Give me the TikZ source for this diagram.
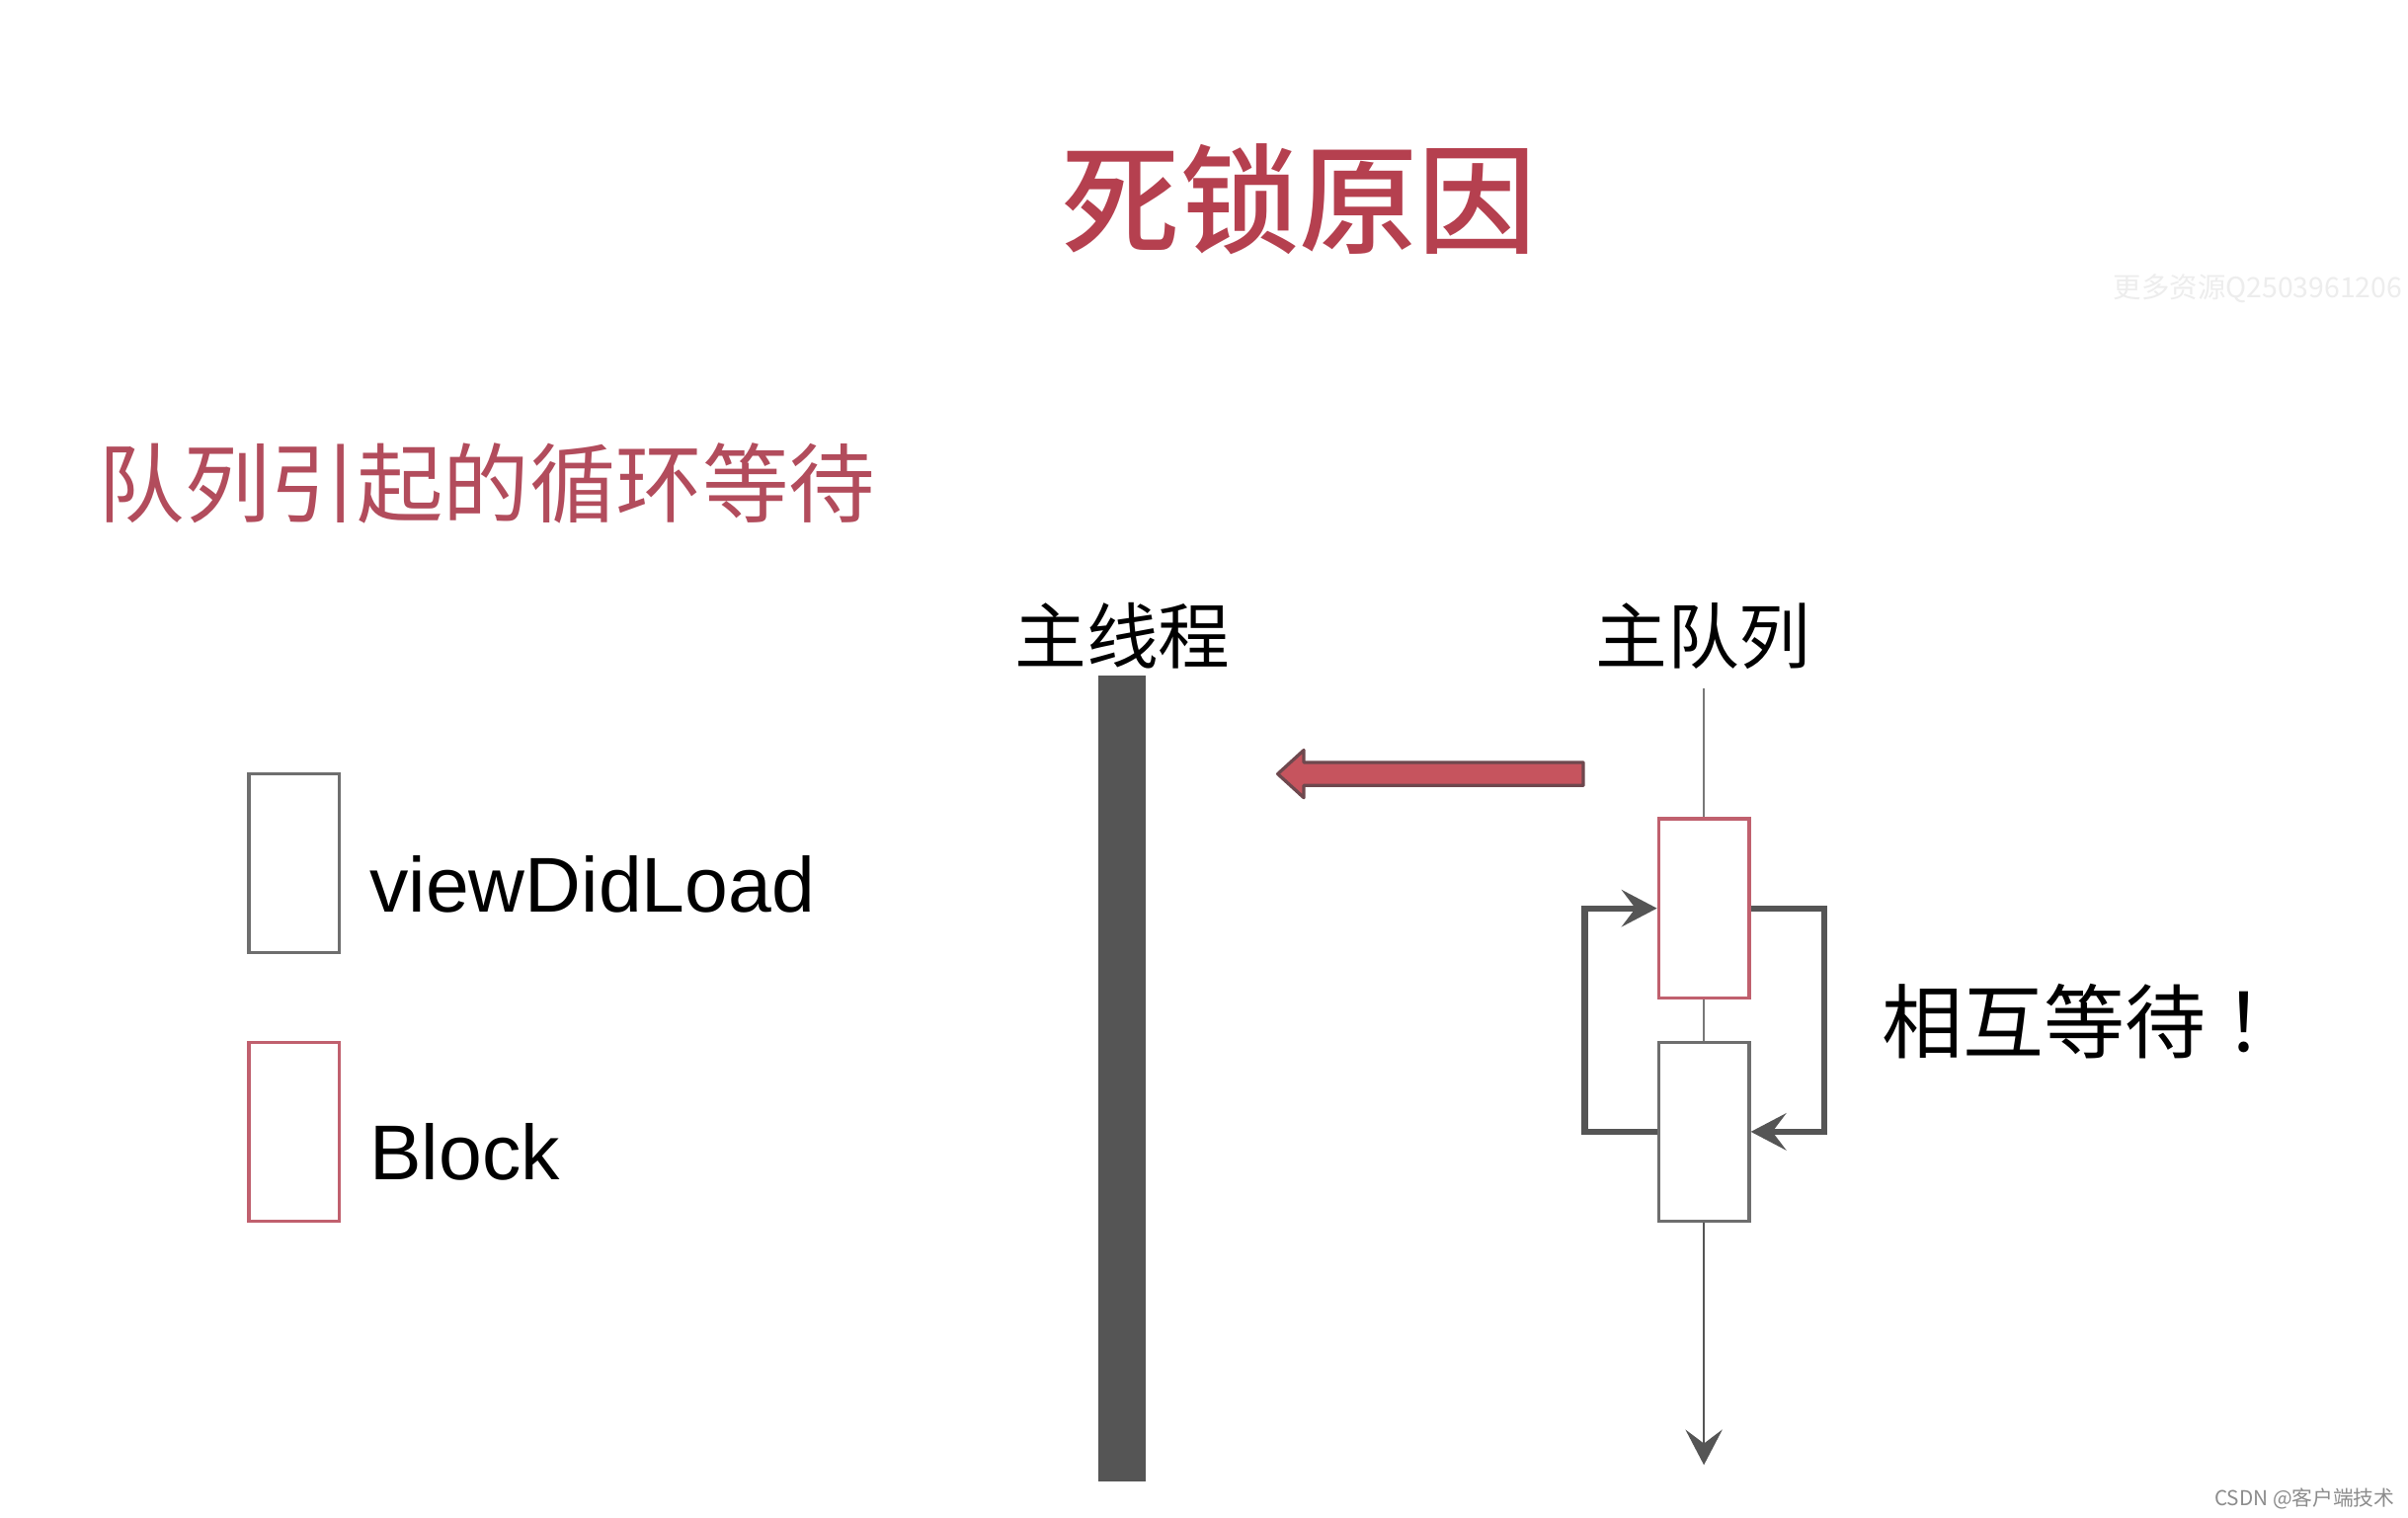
\documentclass[tikz,border=0pt]{standalone}
\usepackage{fontspec}
\setmainfont{Liberation Sans}
\newfontfamily\cjk{Noto Sans CJK SC}
\newfontfamily\cjkmed{Noto Sans CJK SC Medium}
\usepackage{tikz}
\usetikzlibrary{arrows.meta,positioning}
\definecolor{titlered}{RGB}{181,64,79}
\definecolor{subred}{RGB}{178,76,92}
\definecolor{boxred}{RGB}{192,96,110}
\definecolor{arrowred}{RGB}{198,84,94}
\definecolor{arrowedge}{RGB}{110,72,78}
\definecolor{bargray}{RGB}{85,85,85}
\definecolor{linegray}{RGB}{120,120,120}
\definecolor{boxgray}{RGB}{110,110,110}
\tikzset{
  heading/.style={
    inner sep=0pt,
    text=titlered,
    font=\cjkmed\fontsize{22}{26}\selectfont
  },
  subheading/.style={
    inner sep=0pt,
    text=subred,
    font=\cjk\fontsize{16}{19}\selectfont
  },
  lanehead/.style={
    inner sep=0pt,
    font=\cjk\fontsize{13.3}{16}\selectfont
  },
  legendtext/.style={
    inner sep=0pt,
    font=\fontsize{14.4}{17}\selectfont
  },
  waittext/.style={
    inner sep=0pt,
    font=\cjk\fontsize{15}{18}\selectfont
  },
  slot/.style={
    draw=boxgray,
    fill=white,
    line width=.6pt,
    minimum width=.59cm,
    minimum height=1.165cm,
    inner sep=0pt
  },
  bar/.style={
    fill=bargray,
    minimum width=.31cm,
    minimum height=5.25cm,
    inner sep=0pt
  },
  queueline/.style={
    line width=.5pt,
    linegray
  },
  waitline/.style={
    -{Stealth[length=2.3mm, width=2.4mm, inset=.9mm]},
    line width=1.15pt,
    bargray
  },
  callarrow/.style={
    fill=arrowred,
    draw=arrowedge,
    line width=.6pt,
    line join=round
  }
}
\begin{document}
\begin{tikzpicture}
\useasboundingbox (0,0) rectangle (15.68,9.88);
\fill[white] (0,0) rectangle (15.68,9.88);
% headings
\node[heading] (title) at (8.46,8.58) {死锁原因};
\node[subheading, anchor=west] (sub) at (0.63,6.73) {队列引起的循环等待};
\node[anchor=east, inner sep=0pt, text=black!7, font=\cjk\fontsize{5.2}{6}\selectfont] (wmark) at (15.65,8.00) {更多资源Q2503961206};
% legend
\node[slot] (legvdl) at (1.915,4.26) {};
\node[slot, draw=boxred] (legblk) at (1.915,2.51) {};
\node[legendtext, right=.18cm of legvdl, yshift=-.14cm] (vdltext) {viewDidLoad};
\node[legendtext, right=.18cm of legblk, yshift=-.13cm] (blktext) {Block};
% main thread
\node[lanehead] (thread) at (7.31,5.74) {主线程};
\node[bar] (mainbar) at (7.305,2.855) {};
% main queue
\node[lanehead] (queue) at (11.09,5.74) {主队列};
\coordinate (qtop) at (11.095,5.40);
\coordinate (qend) at (11.095,.34);
\node[slot, draw=boxred] (blkbox) at (11.095,3.965) {};
\node[slot] (vdlbox) at (11.095,2.51) {};
\draw[queueline] (qtop) -- (blkbox.north);
\draw[queueline] (blkbox.south) -- (vdlbox.north);
\draw[queueline, -{Stealth[length=2.3mm, width=2.4mm, inset=.9mm]}, bargray] (vdlbox.south) -- (qend);
\draw[waitline] (vdlbox.west) -- ++(-.47,0) |- (blkbox.west);
\draw[waitline] (blkbox.east) -- ++(.48,0) |- (vdlbox.east);
% call from the queue into the main thread
\coordinate (calldst) at (8.32,4.84);
\draw[callarrow] (calldst) -- ++(.17,.155) -- ++(0,-.08) -- ++(1.82,0) -- ++(0,-.15)
  -- ++(-1.82,0) -- ++(0,-.08) -- cycle;
\node[waittext, anchor=west] (wait) at (12.25,3.23) {相互等待\kern.22em ！};
\node[anchor=east, inner sep=0pt, text=black!45, font=\cjk\fontsize{3.8}{5}\selectfont] (csdn) at (15.60,.12) {CSDN @客户端技术};
\end{tikzpicture}
\end{document}
